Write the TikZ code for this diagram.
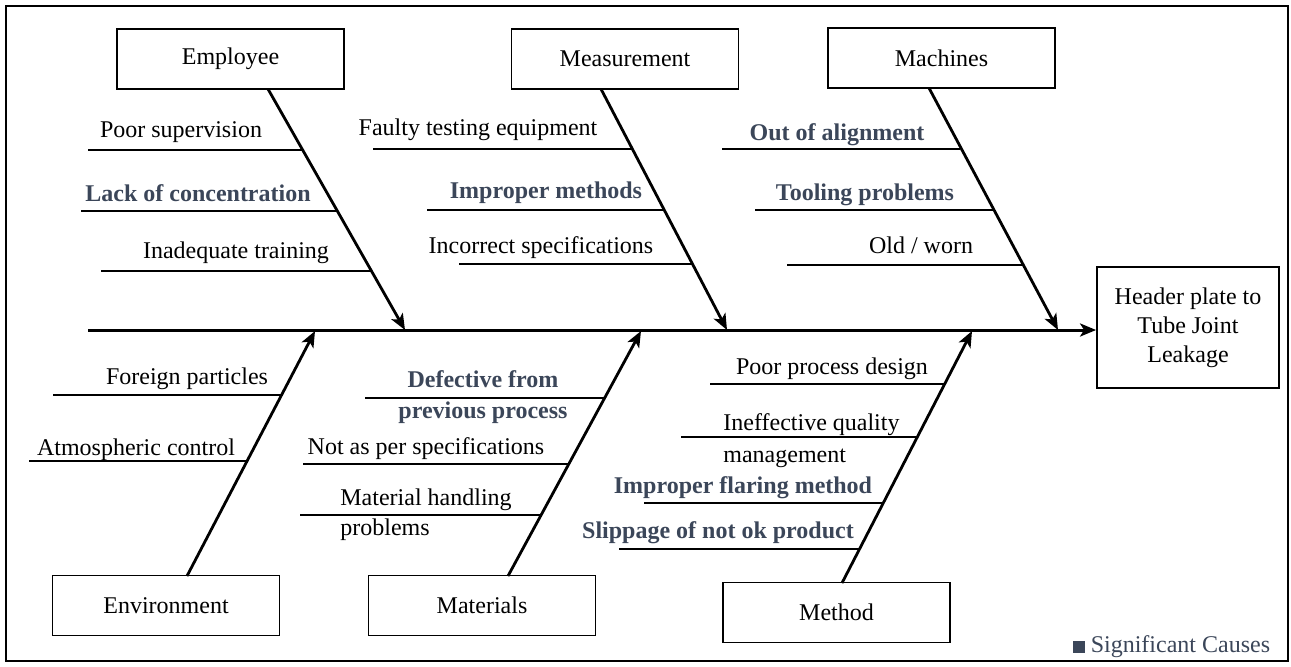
\documentclass[tikz,border=0pt]{standalone}
\usepackage{fontspec}
\setmainfont{Liberation Serif}
\usetikzlibrary{arrows.meta,positioning}
\definecolor{signif}{HTML}{3B4659}

\begin{document}
\begin{tikzpicture}[
		x=0.5pt, y=-0.5pt,
		font=\fontsize{12}{15}\selectfont,
		category/.style={draw, line width=0.9pt, minimum width=113.5pt, minimum height=30pt, inner sep=0pt},
		effect/.style={draw, line width=0.9pt, minimum width=91pt, minimum height=60.5pt, align=center, font=\fontsize{12}{14.5}\selectfont},
		spine/.style={line width=1.5pt, -{Stealth[length=8pt, width=6.5pt, inset=2pt]}},
		bone/.style={line width=1.4pt, -{Stealth[length=8pt, width=6.5pt, inset=2pt]}},
		twig/.style={line width=0.9pt},
		cause/.style={inner sep=0pt},
		key/.style={cause, text=signif, font=\bfseries\fontsize{12}{15.5}\selectfont},
	]
		\useasboundingbox (0,0) rectangle (1291,666);
		\draw[line width=1pt] (6,6) rectangle (1288,661);
		
		\node [category] (employee) at (230.5,59) {Employee};
		\node [category] (measurement) at (625,59) {Measurement};
		\node [category] (machines) at (941.5,58) {Machines};
		\node [category] (environment) at (166,605.5) {Environment};
		\node [category] (materials) at (482,605.5) {Materials};
		\node [category] (method) at (836.5,612.5) {Method};
		\node [effect] (leakage) at (1188,327.5) {Header plate to\\Tube Joint\\Leakage};
		
		\coordinate (tail) at (88,330);
		\coordinate (emp root) at (268,89);
		\coordinate (emp tip) at (405,330);
		\coordinate (meas root) at (601,89);
		\coordinate (meas tip) at (727,330);
		\coordinate (mach root) at (929,88);
		\coordinate (mach tip) at (1058,330);
		\coordinate (env root) at (187,576);
		\coordinate (env tip) at (315,331);
		\coordinate (mat root) at (508,576);
		\coordinate (mat tip) at (641,331);
		\coordinate (meth root) at (842,583);
		\coordinate (meth tip) at (972,331);
		
		\draw[spine] (tail) -- (tail -| leakage.west);
		\draw[bone] (emp root) -- (emp tip);
		\draw[bone] (meas root) -- (meas tip);
		\draw[bone] (mach root) -- (mach tip);
		\draw[bone] (env root) -- (env tip);
		\draw[bone] (mat root) -- (mat tip);
		\draw[bone] (meth root) -- (meth tip);
		
		% employee
		\draw[twig] (88,150) -- (303,150);
		\draw[twig] (81,211) -- (338,211);
		\draw[twig] (101,271) -- (372,271);
		\node [cause] (supervision) at (181,132) {Poor supervision};
		\node [key] (concentration) at (198,193) {Lack of concentration};
		\node [cause] (training) at (236,253) {Inadequate training};
		
		% measurement
		\draw[twig] (373,149) -- (633,149);
		\draw[twig] (427,210) -- (665,210);
		\draw[twig] (459,264) -- (693,264);
		\node [cause] (testing) at (478,130) {Faulty testing equipment};
		\node [key] (methods) at (546,193) {Improper methods};
		\node [cause] (specs) at (541,248) {Incorrect specifications};
		
		% machines
		\draw[twig] (722,149) -- (960,149);
		\draw[twig] (755,210) -- (993,210);
		\draw[twig] (787,265) -- (1023,265);
		\node [key] (alignment) at (837,135) {Out of alignment};
		\node [key] (tooling) at (865,195) {Tooling problems};
		\node [cause] (worn) at (921,245) {Old / worn};
		
		% environment
		\draw[twig] (53,395) -- (282,395);
		\draw[twig] (29,461) -- (246,461);
		\node [cause] (particles) at (187,379) {Foreign particles};
		\node [cause] (atmosphere) at (136,450) {Atmospheric control};
		
		% materials
		\draw[twig] (365,398) -- (605,398);
		\draw[twig] (303,464) -- (568,464);
		\draw[twig] (300,515) -- (541,515);
		\node [key, align=center] (defective) at (483,397.5) {Defective from\\previous process};
		\node [cause] (not per spec) at (426,449) {Not as per specifications};
		\node [cause, align=left, anchor=west] (handling) at (340,515) {Material handling\\problems};
		
		% method
		\draw[twig] (710,384) -- (944,384);
		\draw[twig] (681,437) -- (917,437);
		\draw[twig] (644,503) -- (883,503);
		\draw[twig] (619,549) -- (859,549);
		\node [cause] (design) at (832,369) {Poor process design};
		\node [cause, align=left, anchor=west, font=\fontsize{12}{16}\selectfont] (quality) at (723,441) {Ineffective quality\\management};
		\node [key] (flaring) at (743,488) {Improper flaring method};
		\node [key] (slippage) at (718,533) {Slippage of not ok product};
		
		\node [fill=signif, minimum size=6pt, inner sep=0pt] (mark) at (1079,647) {};
		\node [cause, text=signif, right=2.5pt of mark] (legend) {Significant Causes};
	\end{tikzpicture}
\end{document}
